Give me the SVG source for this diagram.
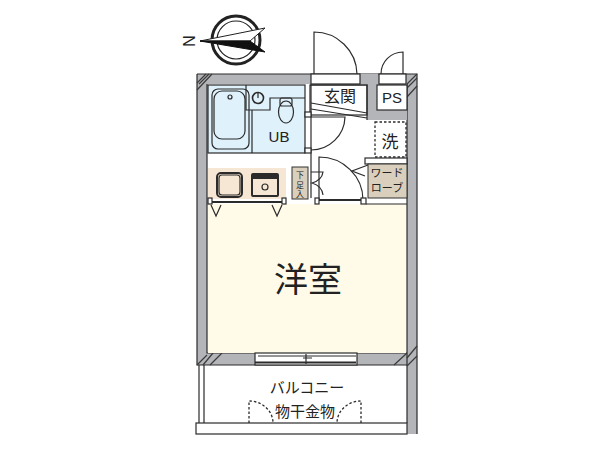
<svg xmlns="http://www.w3.org/2000/svg" width="600" height="450" viewBox="0 0 600 450">
<style>
text{font-family:"Noto Sans CJK JP","Liberation Sans",sans-serif;fill:#222;text-anchor:middle}
.w{fill:#b4b5b8}
.l{fill:none;stroke:#2b2b2b;stroke-width:1.2}
.t{fill:none;stroke:#2b2b2b;stroke-width:2}
.h{fill:none;stroke:#3a3a3a;stroke-width:1.2}
.f{fill:#fff;stroke:#2b2b2b;stroke-width:1.2}
.d{fill:none;stroke:#2b2b2b;stroke-width:1.3;stroke-dasharray:2.5 2}
.tan{fill:#d9cfbc;stroke:#333;stroke-width:1}
.en{font-family:"Liberation Sans",sans-serif}
</style>
<rect width="600" height="450" fill="#fff"/>
<g id="walls">
<path class="w" d="M197 74H417V434H407V84H207V353H407V365H197Z"/>
<path class="l" d="M197 74H417V434M197 74V365H407M207 84V353H407M407 84V423"/>
<path class="w" d="M360 74H378V84H407V120H367V84H360Z"/>
<path class="h" d="M197 90L212 74M197 83L206 74M199 84L209 74M407 97L417 86M407 88L417 78M407 84L417 74M197 365L207 355M203 365L213 353M210 365L222 353M394 365L407 353M407 358L417 346M407 366L417 356"/>
</g>
<g id="room-yoshitsu">
<rect x="208" y="204" width="198" height="149" fill="#fffbe8"/>
<text x="308" y="292" font-size="34">洋室</text>
</g>
<g id="bath">
<rect x="208" y="85" width="97" height="68" fill="#dff1fb" stroke="#2b2b2b" stroke-width="1.2"/>
<path class="l" d="M246 85V110H270V98H305M252 110V153"/>
<rect class="l" x="212" y="89" width="37" height="60" rx="6"/>
<rect class="l" x="214" y="91" width="31" height="48" rx="8"/>
<circle class="l" cx="230" cy="97" r="2"/>
<circle cx="258" cy="98" r="5.500" fill="none" stroke="#2b2b2b" stroke-width="1.600"/>
<path class="l" d="M258 92V98"/>
<ellipse class="l" cx="286" cy="112" rx="7.500" ry="11"/>
<rect class="l" x="280" y="98" width="12" height="8" rx="2"/>
<text class="en" x="279" y="142" font-size="15">UB</text>
</g>
<g id="kitchen">
<rect x="208" y="168" width="78" height="31" fill="#f6e7d4"/>
<path class="t" d="M211 202H282" stroke-width="2.500"/>
<rect class="f" x="208" y="198" width="4" height="6"/>
<rect class="f" x="282" y="198" width="4" height="6"/>
<rect class="t" x="217" y="173" width="25" height="24" rx="4"/>
<rect class="l" x="219" y="175" width="21" height="20" rx="3"/>
<rect x="252" y="174" width="26" height="22" rx="1" fill="none" stroke="#2b2b2b" stroke-width="2"/>
<rect x="252" y="174" width="26" height="5" fill="#2b2b2b"/>
<circle class="l" cx="265" cy="187" r="3"/>
<path class="l" d="M211 205L216 216L221 205M272 205L277 216L282 205"/>
</g>
<g id="getabako">
<rect class="tan" x="292" y="167" width="16" height="32"/>
<text x="300" y="177.500" font-size="8">下</text>
<text x="300" y="187.500" font-size="8">足</text>
<text x="300" y="197" font-size="8">入</text>
<path class="l" d="M311 172L323 172Q322 180 312 183Q322 186 323 195"/>
</g>
<g id="entrance">
<rect class="f" x="310" y="85" width="57" height="30" stroke="none"/>
<path class="l" d="M310 85H367V120M311 103L367 113M311 109L367 118"/>
<text x="340" y="102" font-size="16">玄関</text>
<rect class="f" x="311" y="74" width="49" height="10"/>
<path class="l" d="M314 74V32A43 43 0 0 1 357 74"/>
<path class="l" d="M311 117H345A34 34 0 0 1 311 150"/>
<path class="l" d="M311 85V198"/>
<rect class="f" x="305" y="112" width="6" height="5"/>
<rect class="f" x="305" y="148" width="6" height="5"/>
</g>
<g id="ps">
<rect class="f" x="377" y="85" width="30" height="25"/>
<rect class="f" x="379" y="74" width="27" height="10"/>
<path class="l" d="M403 74V52A22 22 0 0 0 381 74"/>
<text class="en" x="392" y="103" font-size="15">PS</text>
</g>
<g id="washer">
<rect class="d" x="375" y="122" width="31" height="35" fill="#fff"/>
<text x="390" y="148" font-size="17">洗</text>
</g>
<g id="closet-door">
<path class="t" d="M316 200H362"/>
<path class="l" d="M319 200V157A44 43 0 0 1 363 200"/>
<rect class="f" x="315" y="198" width="4" height="6"/>
<rect class="f" x="361" y="198" width="5" height="6"/>
</g>
<g id="wardrobe">
<rect class="f" x="365" y="158" width="42" height="6"/>
<rect class="tan" x="368" y="164" width="39" height="34"/>
<path class="l" d="M368 165L352 171L365 176"/>
<path class="l" d="M366 204H407"/>
<text x="387" y="177" font-size="11">ワード</text>
<text x="387" y="192" font-size="11">ローブ</text>
</g>
<g id="window">
<rect class="f" x="255" y="353" width="102" height="12"/>
<path class="t" d="M255 362.500H356"/>
<path class="l" d="M258 356H356M303 358H312M306 354V364"/>
</g>
<g id="balcony">
<path class="l" d="M199 365V423M204 365V423"/>
<rect class="f" x="196" y="423" width="211" height="11"/>
<path class="d" d="M249 423V401A24 22 0 0 1 273 423M361 423V401A24 22 0 0 0 337 423"/>
<text x="307" y="393" font-size="15">バルコニー</text>
<text x="305" y="417" font-size="15">物干金物</text>
</g>
<g id="compass">
<circle cx="236" cy="40" r="24" fill="none" stroke="#222" stroke-width="3"/>
<circle cx="236" cy="40" r="19" fill="none" stroke="#222" stroke-width="1.200"/>
<path d="M200 41L265 28L250 41Z" fill="#fff" stroke="#222"/>
<path d="M200 41L265 52L250 41Z" fill="#111" stroke="#111"/>
<text class="en" transform="translate(183 41) rotate(90)" font-size="16">N</text>
</g>
</svg>
